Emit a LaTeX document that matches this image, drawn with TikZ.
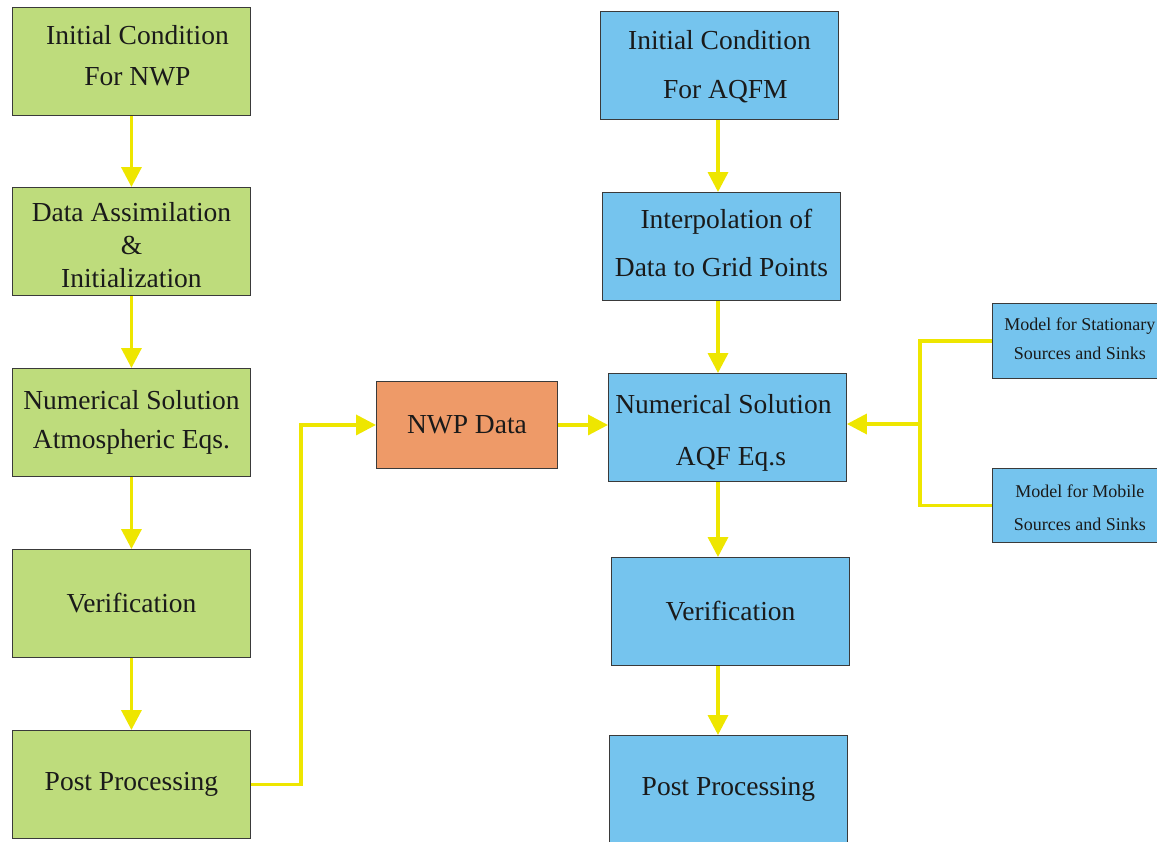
\documentclass[tikz,border=0pt]{standalone}
\usepackage{fontspec}
\setmainfont{Liberation Serif}
\usetikzlibrary{arrows.meta,calc}
\definecolor{gbox}{HTML}{BEDC7C}
\definecolor{bbox}{HTML}{75C4EE}
\definecolor{obox}{HTML}{EE9A68}
\definecolor{yarrow}{HTML}{EEE600}
\definecolor{bord}{HTML}{3A3A3A}
\definecolor{txt}{HTML}{1A1A1A}
\newcommand{\boxtext}[2]{\raisebox{#1}[\height][\depth]{\begin{tabular}{@{}c@{}}#2\end{tabular}}}
\tikzset{
  boxbase/.style={draw=bord, line width=0.9pt, rectangle, anchor=north west, align=center, text=txt, inner sep=0pt},
  mainbox/.style={boxbase, minimum width=238pt, minimum height=108pt, font=\fontsize{27.5}{32}\selectfont},
  greenbox/.style={mainbox, fill=gbox},
  bluebox/.style={mainbox, fill=bbox},
  sidebox/.style={boxbase, fill=bbox, minimum width=175pt, minimum height=75pt, font=\fontsize{18}{21}\selectfont},
  flow/.style={draw=yarrow, line width=3.5pt, -{Triangle[width=20pt,length=20pt]}},
  plainflow/.style={draw=yarrow, line width=3.5pt}
}
\begin{document}
\begin{tikzpicture}[x=1pt,y=-1pt]
\useasboundingbox (0,0) rectangle (1157,841);
\clip (0,0) rectangle (1157,841);
% left column
\node[greenbox] (g1) at (12,7) {\boxtext{3pt}{\hspace*{12pt}Initial Condition\\[9pt]\hspace*{12pt}For NWP}};
\node[greenbox] (g2) at (12,187) {\boxtext{-7pt}{Data Assimilation\\[1pt]\&\\[1pt]Initialization}};
\node[greenbox] (g3) at (12,368) {\boxtext{0pt}{Numerical Solution\\[7pt]Atmospheric Eqs.}};
\node[greenbox] (g4) at (12,549) {Verification};
\node[greenbox] (g5) at (12,730) {Post Processing};
% middle
\node[boxbase, fill=obox, minimum width=181pt, minimum height=87pt, font=\fontsize{27.5}{32}\selectfont] (nwp) at (376,381) {NWP Data};
% right column
\node[bluebox] (b1) at (600,11) {\boxtext{-2pt}{Initial Condition\\[17pt]\hspace*{12pt}For AQFM}};
\node[bluebox] (b2) at (602,192) {\boxtext{0pt}{\hspace*{10pt}Interpolation of\\[16pt]Data to Grid Points}};
\node[bluebox] (b3) at (608,373) {\boxtext{-6pt}{Numerical Solution\\[20pt]\hspace*{15pt}AQF Eq.s}\hspace*{8pt}};
\node[bluebox] (b4) at (611,557) {Verification};
\node[bluebox] (b5) at (609,735) {Post Processing};
% side boxes
\node[sidebox] (st) at (992,303) {\boxtext{0pt}{Model for Stationary\\[8pt]Sources and Sinks}};
\node[sidebox, minimum height=74pt] (mo) at (992,468) {\boxtext{-4pt}{Model for Mobile\\[12pt]Sources and Sinks}};
% left arrows
\draw[flow] (g1.south) -- (g2.north);
\draw[flow] (g2.south) -- (g3.north);
\draw[flow] (g3.south) -- (g4.north);
\draw[flow] (g4.south) -- (g5.north);
% post processing to NWP data
\draw[flow] (g5.east) -- ++(50,0) |- (nwp.west);
\draw[flow] (nwp.east) -- (nwp.east -| b3.west);
% right arrows
\coordinate (cx) at (718,0);
\draw[flow] (b1.south -| cx) -- (b2.north -| cx);
\draw[flow] (b2.south -| cx) -- (b3.north -| cx);
\draw[flow] (b3.south -| cx) -- (b4.north -| cx);
\draw[flow] (b4.south -| cx) -- (b5.north -| cx);
% side connectors
\coordinate (j) at (920,424);
\draw[plainflow] (st.west) -| (j);
\draw[plainflow] (mo.west) -| (j);
\draw[flow] (j) -- (j -| b3.east);
\end{tikzpicture}
\end{document}
